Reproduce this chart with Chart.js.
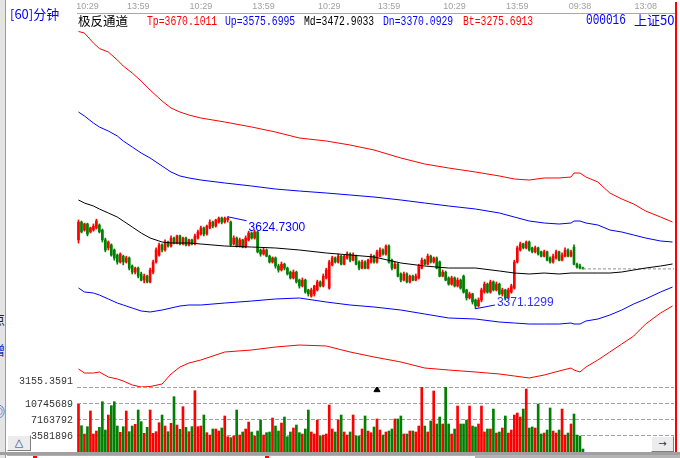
<!DOCTYPE html>
<html>
<head>
<meta charset="utf-8">
<script src="https://cdn.jsdelivr.net/npm/chart.js@4.4.1/dist/chart.umd.min.js"></script>
<style>
html, body { margin: 0; padding: 0; background: #fff; }
#wrap { position: relative; width: 680px; height: 458px; overflow: hidden; background: #fff; }
canvas { position: absolute; left: 0; }
#price { top: 0; }
#vol { top: 387px; }
.t { position: absolute; white-space: nowrap; line-height: 13px; }
.m { font-family: "Liberation Mono", monospace; font-size: 13px; transform: scaleX(0.75); transform-origin: 0 0; }
.cjk { font-family: "Noto Sans CJK SC", sans-serif; }
.box { position: absolute; }
</style>
</head>
<body>
<div id="wrap">
  <canvas id="price" width="680" height="392"></canvas>
  <canvas id="vol" width="680" height="71"></canvas>

  <!-- left scroll strip with clipped glyphs of the side panel -->
  <div class="box" style="left:0;top:0;width:5px;height:458px;background:#e4e4e4;overflow:hidden;">
    <span class="t cjk" style="left:-8px;top:312px;font-size:13px;color:#222;">点</span>
    <span class="t cjk" style="left:-8px;top:343px;font-size:13px;color:#1030c0;">增</span>
    <span class="t cjk" style="left:-8px;top:372px;font-size:13px;color:#1030c0;">》</span>
    <span class="t cjk" style="left:-8px;top:404px;font-size:13px;color:#1030c0;">◎</span>
  </div>
  <div class="box" style="left:5px;top:0;width:1px;height:458px;background:#9a9a9a;"></div>

  <span class="t cjk" style="left:10px;top:7px;font-size:13px;color:#0000ff;">[60]分钟</span>
  <span class="t cjk" style="left:78px;top:14px;font-size:12.5px;color:#000;">极反通道</span>
  <span class="t m" style="left:147px;top:15px;color:#ff0000;">Tp=3670.1011</span>
  <span class="t m" style="left:225px;top:15px;color:#0000ff;">Up=3575.6995</span>
  <span class="t m" style="left:304px;top:15px;color:#000;">Md=3472.9033</span>
  <span class="t m" style="left:383px;top:15px;color:#0000ff;">Dn=3370.0929</span>
  <span class="t m" style="left:463px;top:15px;color:#ff0000;">Bt=3275.6913</span>
  <span class="t m" style="left:586px;top:14px;color:#0000ff;font-size:14px;transform:scaleX(0.79);">000016</span>
  <span class="t cjk" style="left:634px;top:13px;font-size:13px;color:#0000ff;">上证50</span>

  <!-- right border and bottom bars -->
  <div class="box" style="left:675px;top:2px;width:2px;height:454px;background:#ff0000;"></div>
  <div class="box" style="left:0;top:452px;width:680px;height:3px;background:#a0a0a0;"></div>
  <div class="box" style="left:7px;top:455px;width:468px;height:3px;background:#fff;border-top:1px solid #b0b0b0;"></div>
  <div class="box" style="left:475px;top:455px;width:205px;height:3px;background:#b4b4b4;"></div>
  <div class="box" style="left:33px;top:456px;width:4px;height:2px;background:#ff0000;"></div>
  <div class="box" style="left:265px;top:456px;width:4px;height:2px;background:#ff0000;"></div>

  <div class="box" style="left:7px;top:435px;width:22px;height:14px;background:#ececec;border:1px solid;border-color:#fff #808080 #808080 #fff;text-align:center;font:11px 'DejaVu Sans';line-height:14px;color:#1a3d8f;">△</div>
  <div class="box" style="left:651px;top:436px;width:21px;height:14px;background:#ececec;border:1px solid;border-color:#fff #808080 #808080 #fff;text-align:center;font:10px 'DejaVu Sans';line-height:14px;color:#334;">→</div>
</div>

<script>
// top time axis: bar index of each label and its text
const timeTickIdx = [3, 20, 41, 62, 84, 104, 126, 147, 168, 190];
const timeLabels = ['10:29', '13:59', '10:29', '13:59', '10:29', '13:59', '10:29', '13:59', '09:38', '13:08'];

// price panel range (bottom value is printed on the axis)
const priceBottom = 3155.3591;
const priceTop = 4186.5;

// volume panel ticks (shares) and range
const volTicks = [3581896, 7163792, 10745689];
const volMax = 14551420;

// 60-minute candles
const opens = [
  3561,3610,3588,3605,3583,3588,3594,3602,3588,3561,
  3539,3547,3533,3519,3500,3516,3500,3511,3489,3472,
  3483,3467,3450,3461,3445,3472,3500,3519,3547,3533,
  3555,3544,3566,3552,3572,3550,3566,3547,3561,3550,
  3566,3577,3594,3577,3594,3610,3599,3610,3621,3610,
  3616,3610,3550,3566,3544,3561,3541,3561,3580,3566,
  3583,3533,3522,3533,3516,3500,3511,3489,3478,3494,
  3483,3472,3456,3472,3450,3434,3450,3423,3406,3412,
  3423,3445,3434,3456,3428,3492,3511,3500,3516,3494,
  3511,3522,3505,3516,3500,3483,3500,3483,3500,3516,
  3500,3516,3533,3522,3544,3505,3483,3494,3467,3450,
  3467,3445,3461,3450,3456,3483,3505,3494,3516,3500,
  3511,3500,3461,3472,3456,3439,3456,3434,3450,3461,
  3423,3401,3412,3395,3379,3395,3417,3439,3417,3445,
  3423,3439,3412,3423,3401,3417,3428,3500,3533,3550,
  3539,3555,3539,3528,3539,3528,3516,3528,3511,3500,
  3511,3528,3505,3516,3533,3516,3541,3494,3489,3483
];
const closes = [
  3610,3583,3605,3577,3594,3599,3613,3583,3561,3533,
  3555,3519,3511,3500,3522,3500,3511,3483,3472,3483,
  3461,3450,3461,3445,3478,3500,3533,3547,3533,3555,
  3544,3566,3552,3572,3550,3566,3547,3561,3550,3572,
  3583,3594,3577,3599,3610,3599,3616,3621,3610,3621,
  3621,3547,3566,3544,3561,3541,3566,3580,3566,3583,
  3528,3522,3533,3516,3500,3511,3489,3478,3494,3483,
  3467,3456,3472,3445,3434,3450,3417,3412,3423,3434,
  3445,3434,3461,3478,3500,3511,3500,3516,3494,3516,
  3522,3505,3519,3494,3483,3500,3483,3505,3516,3500,
  3528,3533,3522,3544,3500,3483,3494,3461,3450,3467,
  3445,3461,3450,3461,3489,3505,3494,3516,3500,3511,
  3483,3461,3472,3450,3439,3456,3434,3450,3428,3417,
  3401,3412,3390,3379,3395,3423,3439,3417,3445,3423,
  3439,3412,3423,3401,3423,3434,3500,3539,3550,3539,
  3555,3533,3528,3539,3522,3516,3528,3505,3500,3516,
  3528,3505,3519,3533,3516,3528,3494,3486,3483,3481
];
const highs = [
  3616,3613,3607,3607,3596,3605,3618,3605,3591,3566,
  3558,3550,3536,3522,3525,3519,3516,3514,3492,3486,
  3486,3472,3467,3464,3483,3505,3539,3552,3550,3561,
  3558,3572,3569,3574,3574,3569,3569,3563,3563,3577,
  3588,3599,3596,3602,3616,3613,3618,3624,3624,3624,
  3624.73,3613,3572,3569,3566,3563,3572,3585,3583,3588,
  3585,3536,3539,3536,3519,3514,3514,3494,3500,3497,
  3486,3475,3478,3475,3453,3456,3453,3425,3428,3436,
  3450,3448,3467,3483,3505,3516,3514,3522,3519,3519,
  3528,3525,3525,3519,3503,3505,3503,3508,3522,3519,
  3533,3539,3536,3547,3547,3508,3500,3497,3470,3472,
  3470,3464,3464,3467,3494,3511,3508,3522,3519,3514,
  3514,3503,3478,3475,3459,3461,3459,3456,3453,3464,
  3425,3417,3414,3398,3401,3428,3445,3442,3450,3448,
  3445,3442,3428,3425,3428,3439,3505,3544,3555,3552,
  3558,3558,3541,3544,3541,3530,3533,3530,3514,3522,
  3533,3530,3525,3539,3536,3533,3547,3497,3494,3486
];
const lows = [
  3552,3580,3585,3572,3580,3585,3591,3580,3555,3528,
  3533,3516,3505,3494,3497,3492,3497,3478,3467,3467,
  3456,3448,3442,3442,3442,3467,3497,3516,3528,3530,
  3541,3541,3550,3550,3547,3547,3544,3544,3547,3547,
  3563,3574,3572,3574,3591,3594,3596,3607,3605,3607,
  3610,3544,3547,3541,3541,3539,3539,3558,3563,3563,
  3525,3516,3519,3514,3497,3497,3483,3472,3475,3478,
  3464,3453,3453,3442,3428,3431,3414,3406,3403,3406,
  3420,3431,3431,3453,3425,3489,3497,3497,3492,3492,
  3508,3500,3503,3492,3478,3481,3481,3481,3497,3497,
  3497,3514,3519,3519,3497,3478,3481,3459,3445,3448,
  3442,3442,3448,3448,3453,3481,3492,3492,3497,3497,
  3481,3459,3459,3448,3436,3436,3431,3431,3425,3414,
  3395,3398,3384,3371.1299,3376,3390,3414,3414,3414,3420,
  3420,3409,3406,3395,3398,3414,3425,3497,3530,3536,
  3536,3530,3525,3525,3519,3514,3514,3503,3497,3497,
  3508,3503,3503,3514,3514,3514,3492,3483,3481,3481
];
// volume in millions of shares
const volumesM = [
  10.67,5.89,4.03,5.67,9.18,4.03,4.70,5.52,11.26,4.92,
  8.28,10.37,11.26,5.82,4.40,5.67,9.18,4.55,5.82,6.19,
  9.40,6.79,4.18,5.52,9.40,4.18,4.55,6.56,8.28,5.82,
  4.55,6.42,12.38,6.04,5.07,10.15,5.52,4.55,5.67,13.73,
  5.67,5.82,8.28,4.33,3.80,5.15,5.15,4.70,5.37,8.06,
  3.43,3.21,3.58,9.40,3.80,4.48,5.15,6.71,4.48,3.58,
  4.70,7.16,3.80,4.33,4.48,7.61,5.82,4.70,6.49,7.83,
  3.43,4.48,5.37,6.04,4.33,4.03,5.15,9.40,4.48,4.03,
  7.16,3.58,3.80,4.03,10.52,5.15,4.48,7.16,8.28,4.48,
  3.80,4.48,8.28,3.58,3.58,5.15,8.06,4.70,4.33,5.60,
  7.39,4.92,3.80,4.48,4.70,5.15,7.39,7.39,8.06,4.03,
  4.03,4.70,4.70,4.48,5.82,14.62,5.82,4.48,6.94,13.65,
  6.27,7.83,6.27,14.62,6.27,4.03,5.15,10.29,6.27,6.27,
  7.16,10.29,5.82,5.60,6.27,10.29,4.48,5.15,5.15,9.62,
  4.25,4.48,5.37,8.06,4.25,4.92,8.28,8.73,7.83,9.62,
  14.10,5.37,5.60,5.37,10.74,4.03,4.25,4.92,9.85,4.70,
  4.25,4.92,9.62,3.80,4.25,6.27,8.50,3.80,3.58,0.67
];

// channel lines, sampled at these bar indices (they run past the last bar)
const bandIdx = [0,2,5,7,10,13,15,18,21,24,28,31,34,37,41,49,58,66,74,83,91,99,108,116,124,133,141,146,151,156,161,165,166,168,170,174,178,182,186,190,195,199];
const tpLine = [4135.5,4131.3,4103.8,4088.6,4078.9,4056.9,4040.3,4021.0,3999.0,3974.2,3943.8,3924.5,3913.5,3905.2,3897.0,3886.0,3872.2,3858.4,3841.8,3833.6,3822.5,3808.8,3786.7,3770.2,3759.1,3748.1,3737.1,3728.8,3726.0,3731.6,3731.6,3734.3,3745.3,3745.3,3734.3,3720.5,3690.2,3673.7,3659.9,3640.6,3624.0,3610.3];
const upLine = [3913.5,3902.5,3883.2,3872.2,3861.1,3847.4,3833.6,3817.0,3800.5,3786.7,3764.6,3748.1,3737.1,3731.6,3726.0,3717.8,3709.5,3701.2,3695.7,3690.2,3684.7,3679.2,3670.9,3662.6,3654.4,3646.1,3635.1,3624.0,3613.0,3607.5,3604.7,3607.5,3613.0,3613.0,3607.5,3602.0,3588.2,3582.7,3574.4,3566.1,3557.9,3555.1];
const mdLine = [3670.9,3662.6,3654.4,3646.1,3635.1,3624.0,3613.0,3596.5,3579.9,3566.1,3555.1,3552.4,3552.4,3552.4,3549.6,3544.1,3541.3,3538.6,3533.1,3524.8,3519.3,3513.8,3497.2,3488.9,3483.4,3483.4,3475.2,3469.6,3466.9,3469.6,3466.9,3469.6,3469.6,3469.6,3469.6,3469.6,3469.6,3472.4,3477.9,3483.4,3488.9,3494.5];
const dnLine = [3428.3,3417.3,3414.5,3409.0,3398.0,3386.9,3381.4,3373.1,3364.9,3362.1,3367.6,3373.1,3378.7,3381.4,3381.4,3386.9,3392.4,3398.0,3400.7,3389.7,3381.4,3375.9,3367.6,3356.6,3345.6,3342.8,3334.5,3331.8,3329.0,3329.0,3329.0,3331.8,3329.0,3329.0,3337.3,3342.8,3353.8,3367.6,3384.2,3398.0,3417.3,3431.0];
const btLine = [3205.0,3193.9,3193.9,3196.7,3182.9,3177.4,3171.9,3160.9,3155.3,3156.7,3163.6,3191.2,3210.5,3221.5,3229.8,3251.8,3257.4,3265.6,3271.1,3268.4,3251.8,3238.1,3224.3,3207.7,3202.2,3196.7,3191.2,3185.7,3180.2,3188.4,3199.5,3207.7,3202.2,3196.7,3210.5,3229.8,3251.8,3273.9,3295.9,3329.0,3359.4,3378.7];

const RED = '#ff0000';
const GREEN = '#008000';
const BLUE = '#0000ff';
const lastIdx = 199.5;

const idx = opens.map((_, i) => i);
const upBar = i => closes[i] >= opens[i];
const barColor = c => (upBar(c.dataIndex) ? RED : GREEN);

const hiVal = Math.max(...highs);
const loVal = Math.min(...lows);
const hiIdx = highs.indexOf(hiVal);
const loIdx = lows.indexOf(loVal);

function band(values, color) {
  return {
    type: 'line',
    data: bandIdx.map((x, k) => ({ x, y: values[k] })),
    borderColor: color,
    borderWidth: 1,
    pointRadius: 0,
    tension: 0,
    order: 0
  };
}

// leader lines from the extreme bars to their labels
const hiLeader = [{ x: hiIdx, y: hiVal }, { x: hiIdx + 6.3, y: 3613.8 }];
const loLeader = [{ x: loIdx, y: loVal }, { x: loIdx + 6.5, y: 3381.4 }];

// y axes here must keep their plot edges exactly where the labels say
const noEdgePad = s => { s.paddingTop = 0; s.paddingBottom = 0; };

const extremeLabels = {
  id: 'extremeLabels',
  afterDatasetsDraw(chart) {
    const { ctx, scales: { x, y } } = chart;
    const hiEnd = hiLeader[1];
    const loEnd = loLeader[1];
    ctx.save();
    ctx.font = '12px "Liberation Sans"';
    ctx.textBaseline = 'middle';
    ctx.fillStyle = BLUE;
    ctx.fillText(hiVal.toFixed(4), x.getPixelForValue(hiEnd.x) + 2, y.getPixelForValue(hiEnd.y) + 7);
    ctx.fillStyle = '#3030ff';
    ctx.fillText(loVal.toFixed(4), x.getPixelForValue(loEnd.x) + 2, y.getPixelForValue(loEnd.y) - 2);
    ctx.restore();
  }
};

new Chart(document.getElementById('price'), {
  type: 'bar',
  data: {
    datasets: [
      {
        data: idx.map(i => ({ x: i, y: [lows[i], highs[i]] })),
        backgroundColor: barColor, barThickness: 1, grouped: false, order: 2
      },
      {
        data: idx.map(i => ({ x: i, y: [opens[i], closes[i]] })),
        backgroundColor: barColor, barThickness: 2, minBarLength: 1, grouped: false, order: 1
      },
      band(tpLine, RED),
      band(upLine, BLUE),
      band(mdLine, '#000000'),
      band(dnLine, BLUE),
      band(btLine, RED),
      { type: 'line', data: hiLeader, borderColor: BLUE, borderWidth: 1, pointRadius: 0, order: 0 },
      { type: 'line', data: loLeader, borderColor: BLUE, borderWidth: 1, pointRadius: 0, order: 0 },
      {
        type: 'line',
        data: [{ x: idx.length - 1, y: closes[closes.length - 1] }, { x: lastIdx, y: closes[closes.length - 1] }],
        borderColor: '#909090', borderWidth: 1, borderDash: [3, 2], pointRadius: 0, order: 0
      }
    ]
  },
  options: {
    responsive: false,
    animation: false,
    layout: { autoPadding: false, padding: { left: 0, right: 6, top: 0, bottom: 5 } },
    plugins: { legend: { display: false }, tooltip: { enabled: false } },
    scales: {
      x: {
        type: 'linear',
        position: 'top',
        min: -0.5,
        max: lastIdx,
        offset: false,
        grid: { display: false, drawTicks: false },
        border: { display: true, color: '#a8a8a8' },
        afterBuildTicks: s => { s.ticks = timeTickIdx.map(v => ({ value: v })); },
        afterFit: s => { s.height = 13; s.paddingLeft = 0; s.paddingRight = 0; },
        ticks: {
          autoSkip: false, maxRotation: 0, padding: 1, color: '#a0a0a0',
          font: { family: 'Liberation Sans', size: 9 },
          callback: (v, i) => timeLabels[i]
        }
      },
      y: {
        min: priceBottom,
        max: priceTop,
        afterFit: s => { s.width = 77; noEdgePad(s); },
        afterBuildTicks: s => { s.ticks = [{ value: priceBottom }]; },
        grid: { color: '#a0a0a0', drawTicks: false },
        border: { display: false, dash: [4, 2] },
        ticks: {
          padding: 4, labelOffset: -6, color: '#333',
          font: { family: 'Liberation Mono', size: 10 },
          callback: v => v.toFixed(4)
        }
      }
    }
  },
  plugins: [extremeLabels]
});

new Chart(document.getElementById('vol'), {
  type: 'bar',
  data: {
    datasets: [
      {
        data: idx.map(i => ({ x: i, y: volumesM[i] })),
        backgroundColor: barColor, barThickness: 2, grouped: false
      },
      {
        type: 'scatter',
        data: [{ x: 100, y: 13.9 }],
        pointStyle: 'triangle', pointRadius: 3.5,
        backgroundColor: '#000', borderColor: '#000', clip: false
      }
    ]
  },
  options: {
    responsive: false,
    animation: false,
    layout: { autoPadding: false, padding: { left: 0, right: 6, top: 0, bottom: 6 } },
    plugins: { legend: { display: false }, tooltip: { enabled: false } },
    scales: {
      x: { type: 'linear', min: -0.5, max: lastIdx, offset: false, display: false },
      y: {
        min: 0,
        max: volMax / 1e6,
        afterFit: s => { s.width = 77; noEdgePad(s); },
        afterBuildTicks: s => { s.ticks = volTicks.map(v => ({ value: v / 1e6 })); },
        grid: { color: '#a0a0a0', drawTicks: false },
        border: { display: false, dash: [4, 2] },
        ticks: {
          padding: 4, color: '#333',
          font: { family: 'Liberation Mono', size: 10 },
          callback: (v, i) => String(volTicks[i])
        }
      }
    }
  }
});
</script>
</body>
</html>
